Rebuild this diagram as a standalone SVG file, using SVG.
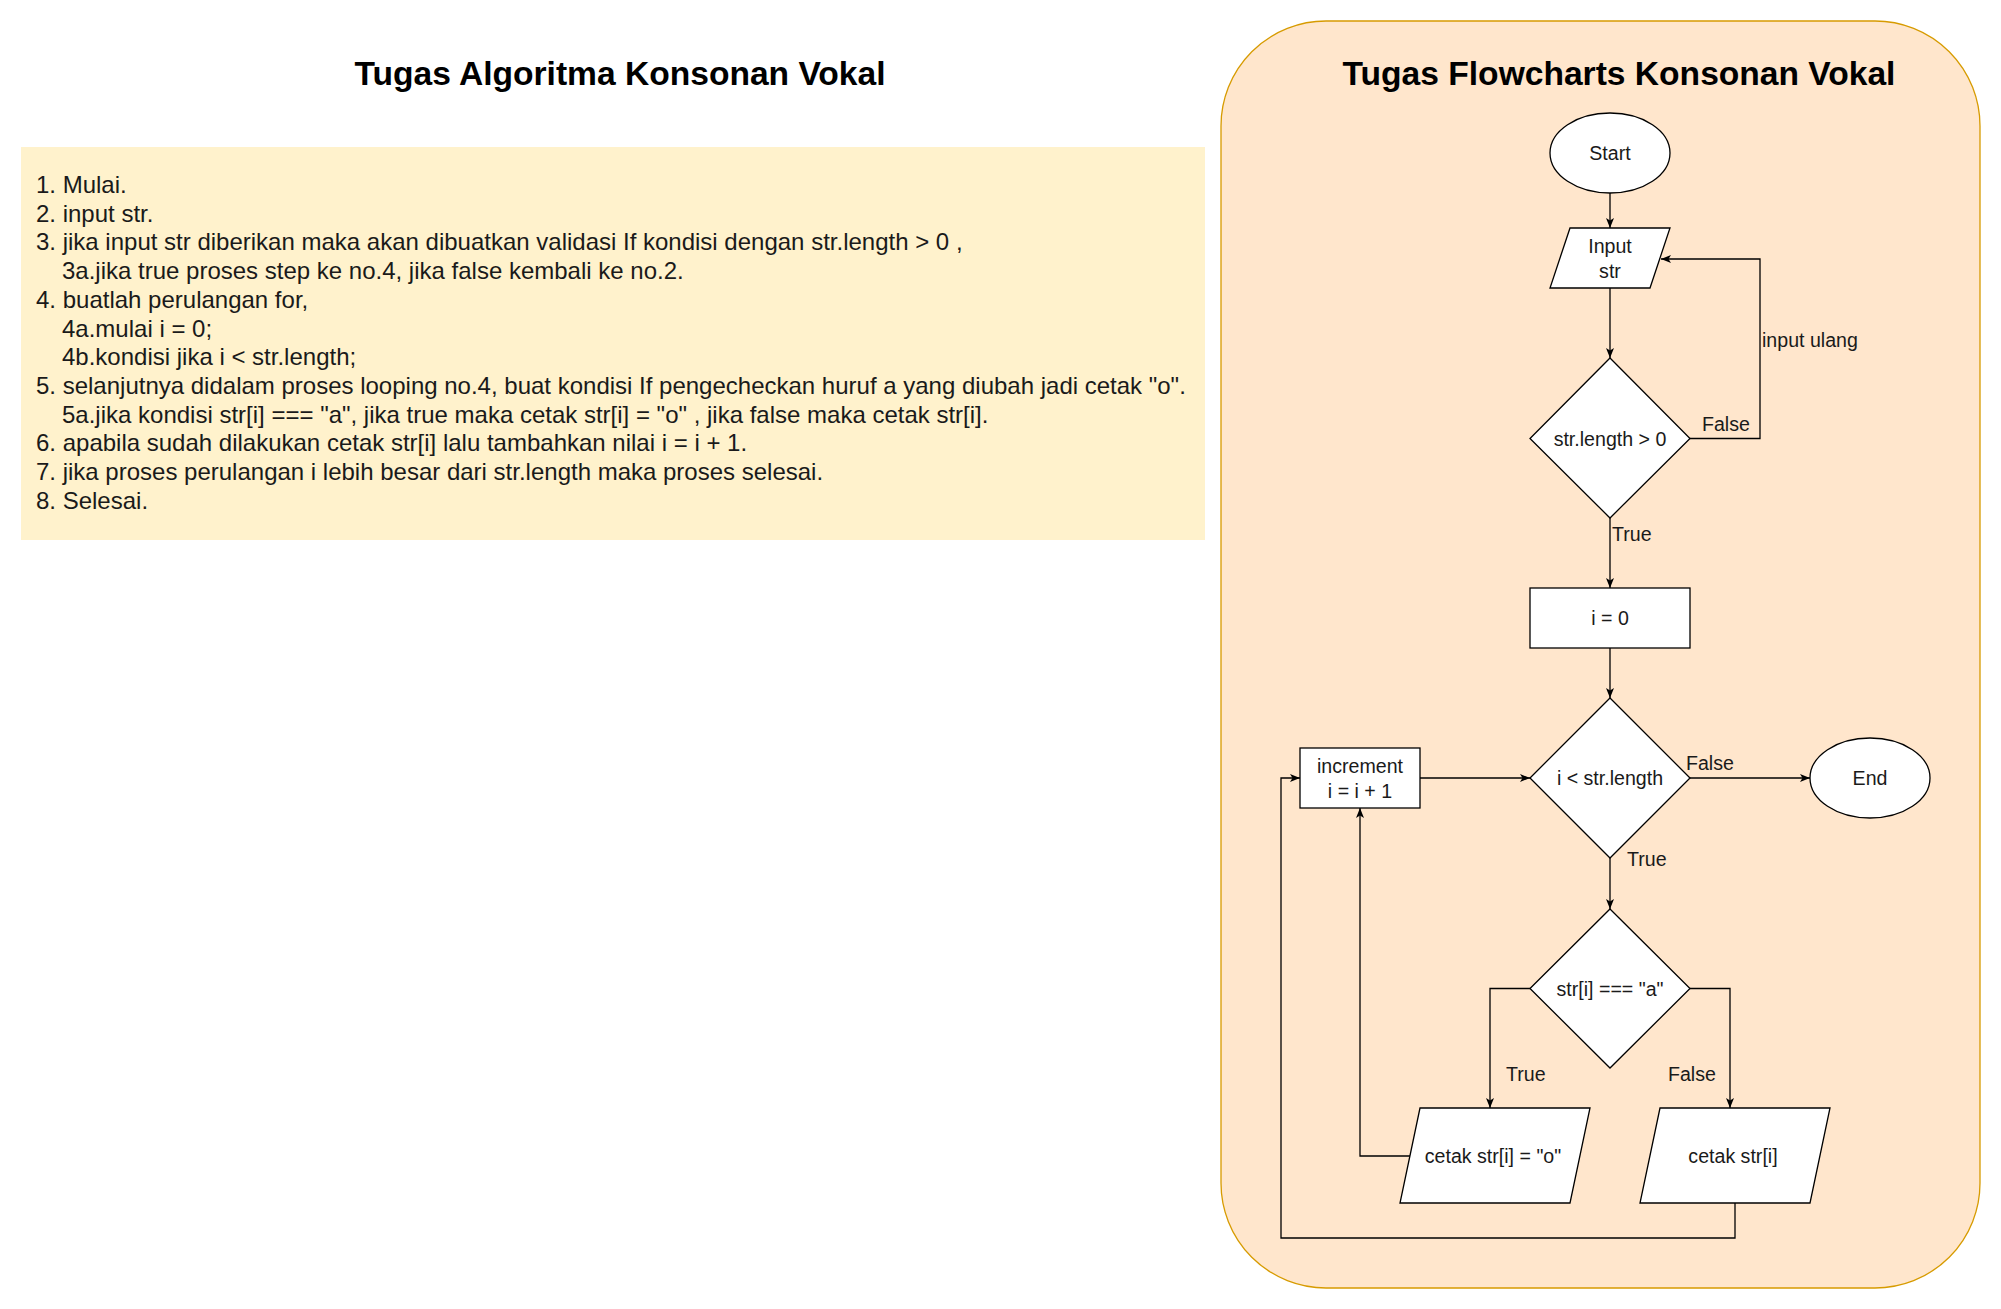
<svg xmlns="http://www.w3.org/2000/svg" width="2001" height="1309" viewBox="0 0 2001 1309">
<style>
.title{font-family:"Liberation Sans",Arial,sans-serif;font-weight:bold;font-size:33.6px;fill:#000;text-anchor:middle}
.algo{font-family:"Liberation Sans",Arial,sans-serif;font-size:24px;fill:#1a1a1a}
.t{font-family:"Liberation Sans",Arial,sans-serif;font-size:19.6px;fill:#1a1a1a;text-anchor:middle;dominant-baseline:central}
.lbl{font-family:"Liberation Sans",Arial,sans-serif;font-size:19.6px;fill:#1a1a1a;dominant-baseline:central}
.shape{fill:#fff;stroke:#000;stroke-width:1.3}
.edge{fill:none;stroke:#000;stroke-width:1.3}
</style>
<defs>
<marker id="arr" markerUnits="userSpaceOnUse" markerWidth="11" markerHeight="9" refX="10" refY="4.5" orient="auto">
<path d="M0,0.5 L10,4.5 L0,8.5 L2.5,4.5 Z" fill="#000"/>
</marker>
</defs>
<rect width="2001" height="1309" fill="#fff"/>

<g id="algo-title"><text class="title" x="620" y="85">Tugas Algoritma Konsonan Vokal</text></g>
<g id="algo-box">
<rect x="21" y="147" width="1184" height="393" fill="#fff2cc"/>
<text class="algo" x="36" y="193">1. Mulai.</text>
<text class="algo" x="36" y="221.7">2. input str.</text>
<text class="algo" x="36" y="250.4">3. jika input str diberikan maka akan dibuatkan validasi If kondisi dengan str.length &gt; 0 ,</text>
<text class="algo" x="62" y="279.1">3a.jika true proses step ke no.4, jika false kembali ke no.2.</text>
<text class="algo" x="36" y="307.8">4. buatlah perulangan for,</text>
<text class="algo" x="62" y="336.5">4a.mulai i = 0;</text>
<text class="algo" x="62" y="365.2">4b.kondisi jika i &lt; str.length;</text>
<text class="algo" x="36" y="393.9">5. selanjutnya didalam proses looping no.4, buat kondisi If pengecheckan huruf a yang diubah jadi cetak "o".</text>
<text class="algo" x="62" y="422.6">5a.jika kondisi str[i] === "a", jika true maka cetak str[i] = "o" , jika false maka cetak str[i].</text>
<text class="algo" x="36" y="451.3">6. apabila sudah dilakukan cetak str[i] lalu tambahkan nilai i = i + 1.</text>
<text class="algo" x="36" y="480">7. jika proses perulangan i lebih besar dari str.length maka proses selesai.</text>
<text class="algo" x="36" y="508.7">8. Selesai.</text>
</g>

<g id="flow-container">
<rect x="1221" y="21" width="759" height="1267" rx="105" ry="105" fill="#ffe6cc" stroke="#d79b00" stroke-width="1.3"/>
<text class="title" x="1619" y="85">Tugas Flowcharts Konsonan Vokal</text>
</g>

<g id="connectors">
<path class="edge" d="M1610,193 L1610,228" marker-end="url(#arr)"/>
<path class="edge" d="M1610,288 L1610,358" marker-end="url(#arr)"/>
<path class="edge" d="M1690,438.5 L1760,438.5 L1760,259 L1661,259" marker-end="url(#arr)"/>
<path class="edge" d="M1610,518 L1610,588" marker-end="url(#arr)"/>
<path class="edge" d="M1610,648 L1610,698" marker-end="url(#arr)"/>
<path class="edge" d="M1690,778 L1810,778" marker-end="url(#arr)"/>
<path class="edge" d="M1610,858 L1610,909" marker-end="url(#arr)"/>
<path class="edge" d="M1530,988.5 L1490,988.5 L1490,1108" marker-end="url(#arr)"/>
<path class="edge" d="M1690,988.5 L1730,988.5 L1730,1108" marker-end="url(#arr)"/>
<path class="edge" d="M1410,1156 L1360,1156 L1360,808" marker-end="url(#arr)"/>
<path class="edge" d="M1735,1203 L1735,1238 L1281,1238 L1281,778 L1300,778" marker-end="url(#arr)"/>
<path class="edge" d="M1420,778 L1530,778" marker-end="url(#arr)"/>
<text class="lbl" x="1702" y="424">False</text>
<text class="lbl" x="1762" y="340">input ulang</text>
<text class="lbl" x="1612" y="534">True</text>
<text class="lbl" x="1686" y="763">False</text>
<text class="lbl" x="1627" y="859">True</text>
<text class="lbl" x="1506" y="1074">True</text>
<text class="lbl" x="1668" y="1074">False</text>
</g>

<g id="start">
<ellipse class="shape" cx="1610" cy="153" rx="60" ry="40"/>
<text class="t" x="1610" y="153">Start</text>
</g>
<g id="input-str">
<polygon class="shape" points="1570,228 1670,228 1650,288 1550,288"/>
<text class="t" x="1610" y="246">Input</text>
<text class="t" x="1610" y="271">str</text>
</g>
<g id="cond-length">
<polygon class="shape" points="1610,358 1690,438.5 1610,518 1530,438.5"/>
<text class="t" x="1610" y="439">str.length &gt; 0</text>
</g>
<g id="init-i">
<rect class="shape" x="1530" y="588" width="160" height="60"/>
<text class="t" x="1610" y="618">i = 0</text>
</g>
<g id="cond-loop">
<polygon class="shape" points="1610,698 1690,778 1610,858 1530,778"/>
<text class="t" x="1610" y="778">i &lt; str.length</text>
</g>
<g id="end">
<ellipse class="shape" cx="1870" cy="778" rx="60" ry="40"/>
<text class="t" x="1870" y="778">End</text>
</g>
<g id="increment">
<rect class="shape" x="1300" y="748" width="120" height="60"/>
<text class="t" x="1360" y="766">increment</text>
<text class="t" x="1360" y="791">i = i + 1</text>
</g>
<g id="cond-a">
<polygon class="shape" points="1610,909 1690,988.5 1610,1068 1530,988.5"/>
<text class="t" x="1610" y="989">str[i] === "a"</text>
</g>
<g id="print-o">
<polygon class="shape" points="1420,1108 1590,1108 1570,1203 1400,1203"/>
<text class="t" x="1493" y="1156">cetak str[i] = "o"</text>
</g>
<g id="print-str">
<polygon class="shape" points="1660,1108 1830,1108 1810,1203 1640,1203"/>
<text class="t" x="1733" y="1156">cetak str[i]</text>
</g>
</svg>
